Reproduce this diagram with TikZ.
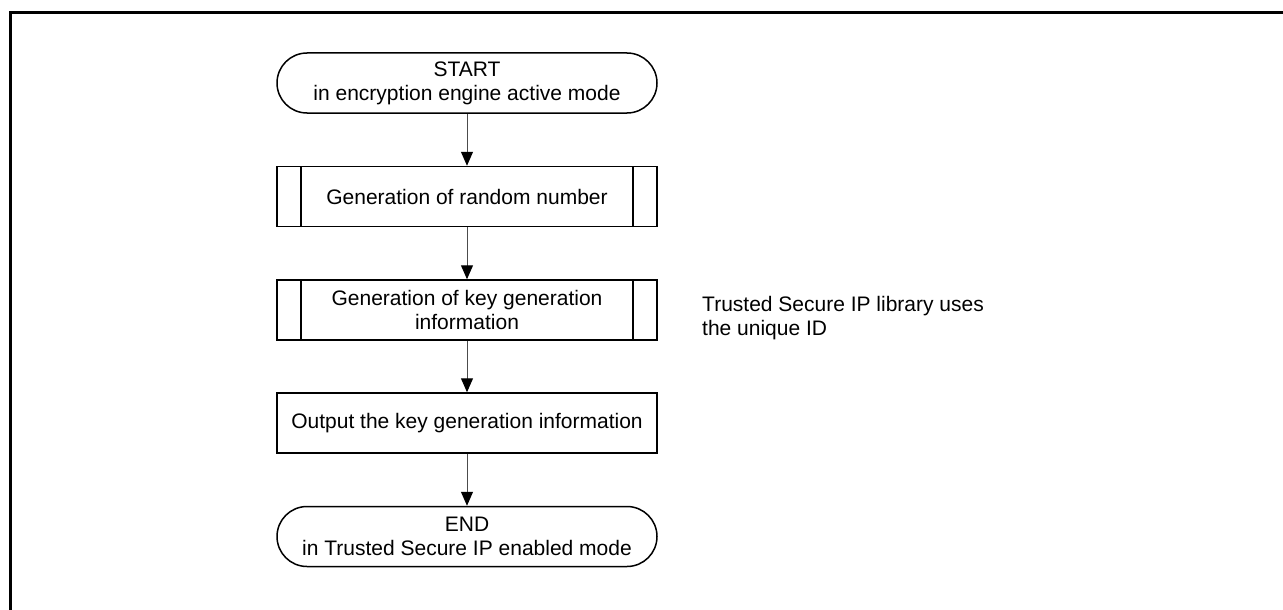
\documentclass[tikz,border=0pt]{standalone}
\usepackage{fontspec}
\setmainfont{Liberation Sans}
\usetikzlibrary{arrows.meta, positioning}

\begin{document}
\begin{tikzpicture}[x=1pt, y=-1pt, >={Triangle[length=14pt, width=12pt, color=black]},
      every node/.style={font=\fontsize{21}{24}\selectfont},
      term/.style={draw, line width=1.5pt, rounded corners=30pt, minimum width=380pt,
                   minimum height=60pt, inner sep=2pt, align=center},
      box/.style={draw, line width=1.5pt, minimum width=380pt,
                  minimum height=60pt, inner sep=2pt, align=center},
      subr/.style={box, path picture={
          \draw[line width=1.5pt] ([xshift=24pt]path picture bounding box.north west)
              -- ([xshift=24pt]path picture bounding box.south west);
          \draw[line width=1.5pt] ([xshift=-24pt]path picture bounding box.north east)
              -- ([xshift=-24pt]path picture bounding box.south east);}},
      flow/.style={->, line width=1pt, black!70},
      note/.style={anchor=west, inner sep=2pt, align=left}]

    \useasboundingbox (0,0) rectangle (1283,610);

    % Frame: only top and left edges are visible
    \draw[line width=3pt] (10.5,610) -- (10.5,12.5) -- (1283,12.5);

    % Main column of the flow
    \node[term] (start)  at (467,83)    {START\\in encryption engine active mode};
    \node[subr] (rnd)    at (467,196.5) {Generation of random number};
    \node[subr] (keyinf) at (467,310)   {Generation of key generation\\information};
    \node[box]  (out)    at (467,423)   {Output the key generation information};
    \node[term] (fin)    at (467,536.5) {END\\in Trusted Secure IP enabled mode};

    % Side remark next to the key step
    \node[note] (libnote) at (700,318) {Trusted Secure IP library uses\\the unique ID};

    \draw[flow] (start) -- (rnd);
    \draw[flow] (rnd) -- (keyinf);
    \draw[flow] (keyinf) -- (out);
    \draw[flow] (out) -- (fin);

\end{tikzpicture}
\end{document}
